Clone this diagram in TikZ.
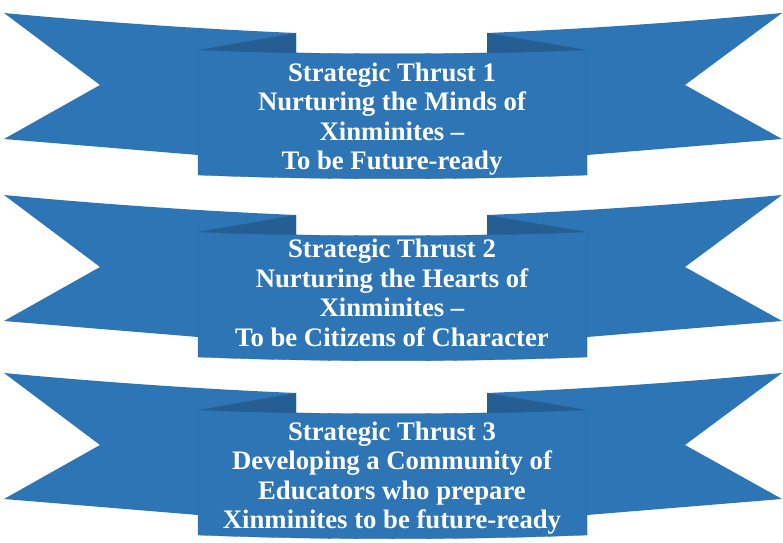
\documentclass[tikz,border=0pt]{standalone}
\usepackage{fontspec}
\setmainfont{Liberation Serif}
\usepackage{xcolor}
\usepackage{tikz}
\usetikzlibrary{positioning}

\definecolor{ribbonblue}{HTML}{2E75B6}
\definecolor{folddark}{HTML}{245E93}

\begin{document}
\begin{tikzpicture}[
  x=0.025cm, y=-0.025cm,
  ear/.style={
    fill=ribbonblue,
    draw=none
  },
  fold/.style={
    fill=folddark,
    draw=none
  },
  panel/.style={
    fill=ribbonblue,
    draw=ribbonblue!80!black,
    line width=0.2pt
  },
  thrust/.style={
    text=white,
    font=\fontsize{19}{21}\selectfont\bfseries,
    align=center,
    inner sep=0pt
  }
]

\useasboundingbox (0,0) rectangle (783,543);

% Three ribbons, one per thrust
\foreach \y in {13,195,373} {
  \begin{scope}[shift={(0,\y)}]
    % left and right ears
    \fill[ear] (4,0) .. controls (100,9) and (200,16) .. (296,20)
      -- (296,140) -- (198,142) -- (4,126) -- (100,72) -- cycle;
    \fill[ear] (782,0) .. controls (685,9) and (585,16) .. (487,20)
      -- (487,140) -- (587,142) -- (782,126) -- (685,72) -- cycle;
    % folds behind the panel
    \fill[fold] (198,37) -- (296,20) -- (296,44) -- cycle;
    \fill[fold] (587,37) -- (487,20) -- (487,44) -- cycle;
    % front panel
    \filldraw[panel] (198,37) .. controls (320,42) and (465,42) .. (587,37)
      -- (587,162) .. controls (465,167) and (320,167) .. (198,162) -- cycle;
  \end{scope}
}

% Texts on the panels
\node[thrust] (thrust1) at (392,119)
{Strategic Thrust 1\\
Nurturing the Minds of\\
Xinminites --\\
To be Future-ready};

\node[thrust] (thrust2) at (392,293)
{Strategic Thrust 2\\
Nurturing the Hearts of\\
Xinminites --\\
To be Citizens of Character};

\node[thrust] (thrust3) at (392,478)
{Strategic Thrust 3\\
Developing a Community of\\
Educators who prepare\\
Xinminites to be future-ready};

\end{tikzpicture}
\end{document}
